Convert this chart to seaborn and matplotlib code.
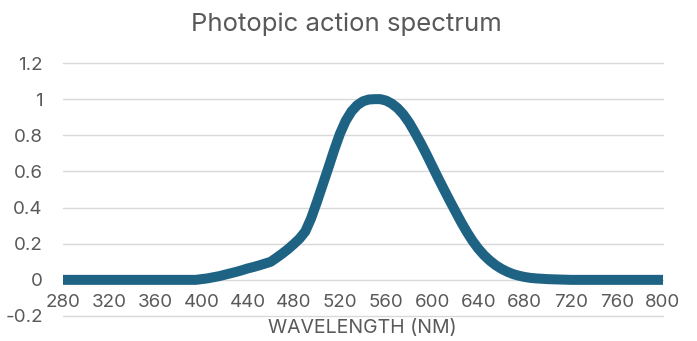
import numpy as np
import pandas as pd
import matplotlib
matplotlib.use("Agg")
import matplotlib.pyplot as plt
import seaborn as sns

# Relative photopic sensitivity, sampled every 5 nm from 280 to 800 nm
wavelength_nm = list(range(280, 805, 5))
sensitivity = (
    [0.0] * 24                                                        # 280-395
    + [0.004, 0.008, 0.014, 0.020, 0.028, 0.036, 0.044, 0.053,        # 400-435
       0.063, 0.071, 0.080, 0.090, 0.100, 0.122, 0.145, 0.170,        # 440-475
       0.198, 0.228, 0.268, 0.340, 0.430, 0.525, 0.620, 0.718,        # 480-515
       0.808, 0.880, 0.932, 0.967, 0.988, 0.998, 1.000, 1.000,        # 520-555
       0.992, 0.975, 0.950, 0.915, 0.870, 0.815, 0.757, 0.695,        # 560-595
       0.630, 0.565, 0.502, 0.440, 0.380, 0.320, 0.265, 0.215,        # 600-635
       0.172, 0.136, 0.106, 0.081, 0.061, 0.045, 0.032, 0.023,        # 640-675
       0.016, 0.011, 0.008, 0.006, 0.004, 0.003, 0.002, 0.001]        # 680-715
    + [0.0] * 17                                                      # 720-800
)
x_ticks = list(range(280, 801, 40))
y_ticks = [-0.2, 0, 0.2, 0.4, 0.6, 0.8, 1.0, 1.2]
y_tick_labels = ["-0.2", "0", "0.2", "0.4", "0.6", "0.8", "1", "1.2"]

df = pd.DataFrame({"wavelength": wavelength_nm, "sensitivity": sensitivity})

sns.set_theme(style="white")
plt.rcParams["font.family"] = ["Inter", "DejaVu Sans"]

text_color = "#595959"
line_color = "#1F6384"
grid_color = "#D9D9D9"

fig = plt.figure(figsize=(6.97, 3.41), dpi=100)
ax = fig.add_axes([63 / 697, 25 / 341, 600 / 697, 253 / 341])

sns.lineplot(data=df, x="wavelength", y="sensitivity", ax=ax,
             color=line_color, linewidth=7.2, zorder=3)
ax.lines[-1].set_solid_joinstyle("round")
ax.lines[-1].set_solid_capstyle("butt")

ax.set_xlim(280, 800)
ax.set_ylim(-0.2, 1.2)
ax.set_yticks(y_ticks)
ax.set_yticklabels(y_tick_labels)
ax.set_xticks(x_ticks)
ax.set_xticklabels([str(t) for t in x_ticks])

# horizontal gridlines at every value tick, including the bottom edge
for yv in y_ticks:
    ax.axhline(yv, color=grid_color, linewidth=1.0, zorder=0, clip_on=False)
ax.grid(False)
for name, spine in ax.spines.items():
    spine.set_visible(False)
# category labels sit beside the horizontal axis crossing at zero
ax.spines["bottom"].set_position(("data", 0))

ax.tick_params(axis="y", length=0, pad=14.5, labelsize=13.5, labelcolor=text_color)
ax.tick_params(axis="x", length=0, pad=10, labelsize=13.5, labelcolor=text_color)

ax.set_xlabel("")
ax.set_ylabel("")
fig.text(362 / 697, 1 - 328 / 341, "WAVELENGTH (NM)", ha="center", va="center",
         fontsize=14, color=text_color)
fig.text(346 / 697, 1 - 24 / 341, "Photopic action spectrum", ha="center", va="center",
         fontsize=18.5, color=text_color)

fig.savefig("out.png", dpi=100)
